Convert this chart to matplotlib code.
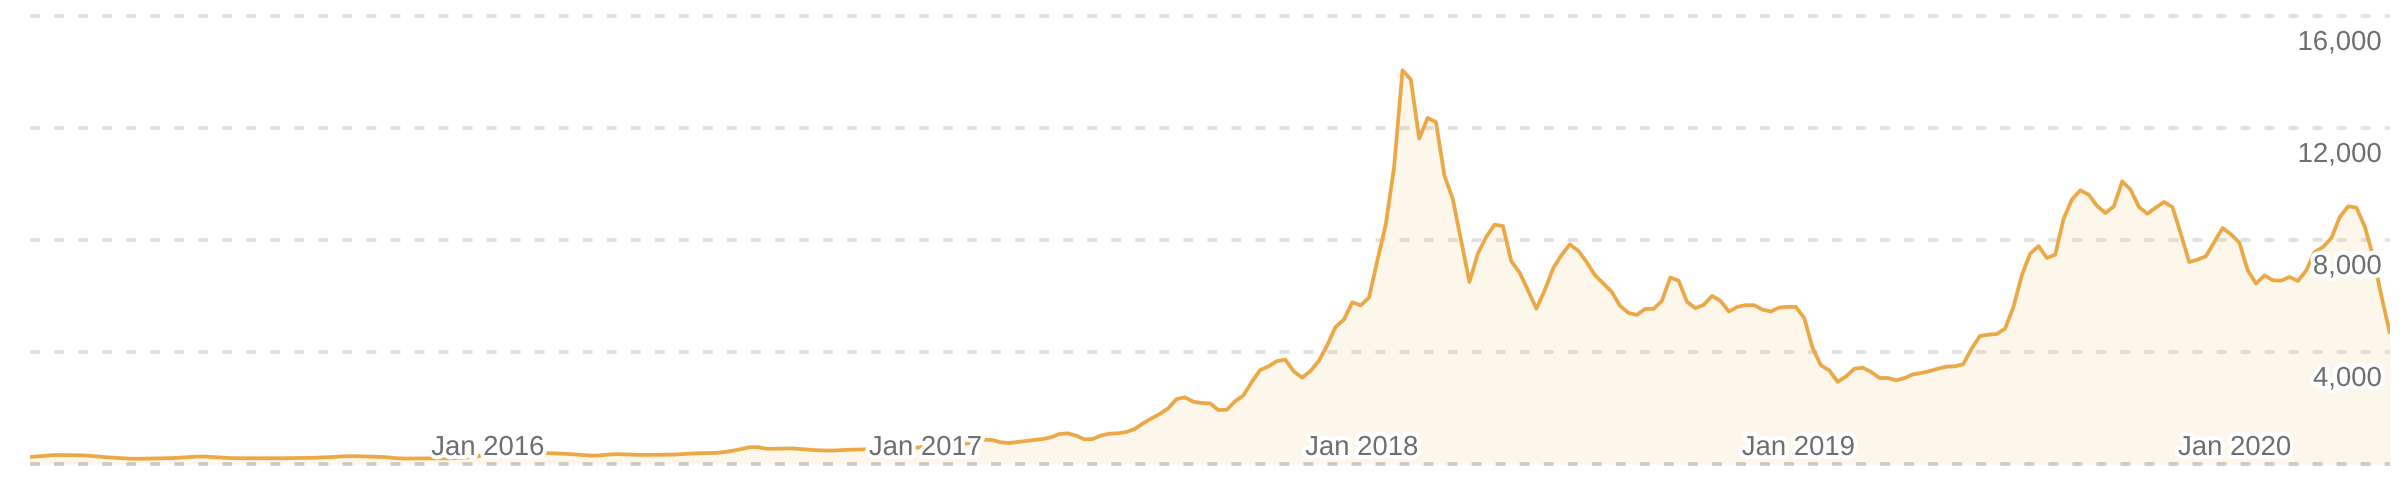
import matplotlib
matplotlib.use("Agg")
import matplotlib.pyplot as plt
import matplotlib.patheffects as pe
import pandas as pd

# ---------------- data (weekly, week ending Sunday) ----------------
first_week = "2014-10-26"

prices_2014_2016 = [
    250, 275, 300, 320, 318, 315, 311, 296, 270, 245,
    225, 206, 188, 187, 192, 196, 199, 210, 229, 248,
    267, 265, 247, 229, 211, 205, 205, 205, 205, 205,
    205, 209, 213, 218, 223, 234, 250, 265, 280, 279,
    270, 261, 253, 230, 203, 196, 198, 199, 201, 203,
    204, 215, 231, 255, 303, 328, 275, 275, 325, 370,
    408, 398, 389, 376, 363, 345, 322, 298, 306, 334,
    353, 344, 335, 325, 327, 330, 333, 336, 355, 374,
    385, 391, 398, 430, 475, 535, 600, 600, 545, 545,
    553, 558, 535, 513, 492, 483, 482, 497, 511, 517,
    520, 531, 541, 552, 563, 577, 590, 603, 627, 652,
    678, 703, 733, 795,
]
prices_2017 = [
    869, 857, 774, 750, 785, 821, 857, 893, 952, 1071,
    1095, 1012, 881, 893, 1023, 1083, 1095, 1142, 1250, 1452,
    1630, 1785, 1987, 2320, 2380, 2225, 2178, 2166, 1928, 1940,
    2237, 2451, 2939, 3356, 3487, 3677,
]
prices_peak = [
    3726, 3310, 3083, 3321, 3679, 4238, 4893, 5155, 5774, 5667,
    5940, 7274, 8548, 10607, 14060, 13726, 11619, 12357, 12214, 10310,
    9476, 7988, 6500, 7512, 8107, 8548, 8500, 7238, 6833, 6202,
    5548,
]
prices_2018 = [
    6209, 6985, 7463, 7845, 7618, 7212, 6746, 6448, 6149, 5648,
    5397, 5325, 5540, 5540, 5827, 6663, 6543, 5791, 5564, 5684,
    6006, 5827, 5445, 5612, 5672, 5672, 5517, 5445, 5588, 5612,
    5612, 5218, 4143, 3522, 3343, 2937, 3128,
]
prices_2019 = [
    3405, 3440, 3286, 3071, 3071, 2988, 3071, 3202, 3250, 3321,
    3405, 3476, 3488, 3560, 4119, 4571, 4619, 4643, 4833, 5607,
    6738, 7512, 7786, 7357, 7476, 8762, 9453, 9774, 9619, 9214,
    8964, 9202,
]
prices_2019_2020 = [
    10095, 9798, 9179, 8940, 9155, 9357, 9179, 8226, 7214, 7298,
    7417, 7929, 8429, 8202, 7905, 6917, 6441, 6738, 6560, 6548,
    6679, 6536, 6917, 7571, 7750, 8071, 8821, 9202, 9155, 8464,
    7393, 5964, 4655,
]

y_ticks = [4000, 8000, 12000, 16000]
x_label_years = [2016, 2017, 2018, 2019, 2020]

prices = (prices_2014_2016 + prices_2017 + prices_peak + prices_2018
          + prices_2019 + prices_2019_2020)
dates = pd.date_range(first_week, periods=len(prices), freq="W")

# ---------------- style ----------------
plt.rcParams["lines.scale_dashes"] = False
plt.rcParams["font.family"] = ["Liberation Sans", "DejaVu Sans"]

LINE = "#eba844"
TEXT = "#6e6e6e"
W, H = 2406, 480
fig = plt.figure(figsize=(W / 100, H / 100), dpi=100)
left_px, right_px, top_px, bottom_px = 30, 2390, 16, 464
ax = fig.add_axes([left_px / W, 1 - bottom_px / H,
                   (right_px - left_px) / W, (bottom_px - top_px) / H])
ax.set_xlim(dates[0], dates[-1])
ax.set_ylim(0, 16000)
for s in ax.spines.values():
    s.set_visible(False)
ax.set_xticks([])
ax.set_yticks([])

dash = (0, (7.2, 10.1))
for v in y_ticks:
    ax.axhline(v, color="#e1e1e1", lw=2.7, ls=dash, zorder=1, clip_on=False)
ax.axhline(0, color="#d0ccc7", lw=2.7, ls=dash, zorder=1, clip_on=False)

ax.fill_between(dates, prices, 0, color=LINE, alpha=0.1, lw=0, zorder=2)
ax.plot(dates, prices, color=LINE, lw=2.7, zorder=3,
        solid_joinstyle="round", solid_capstyle="butt")

halo = [pe.withStroke(linewidth=6, foreground="white")]
for v in y_ticks:
    ax.annotate(f"{v:,}", xy=(1, v), xycoords=("axes fraction", "data"),
                xytext=(-8, -34), textcoords="offset pixels",
                ha="right", va="baseline", fontsize=19.8, color=TEXT,
                path_effects=halo, zorder=6)

for yr in x_label_years:
    ax.annotate(f"Jan {yr}", xy=(pd.Timestamp(f"{yr}-01-01"), 0),
                xycoords="data", xytext=(-2, 9), textcoords="offset pixels",
                ha="right", va="baseline", fontsize=19.8, color=TEXT,
                path_effects=halo, zorder=6)

fig.savefig("out.png", dpi=100, facecolor="white")
